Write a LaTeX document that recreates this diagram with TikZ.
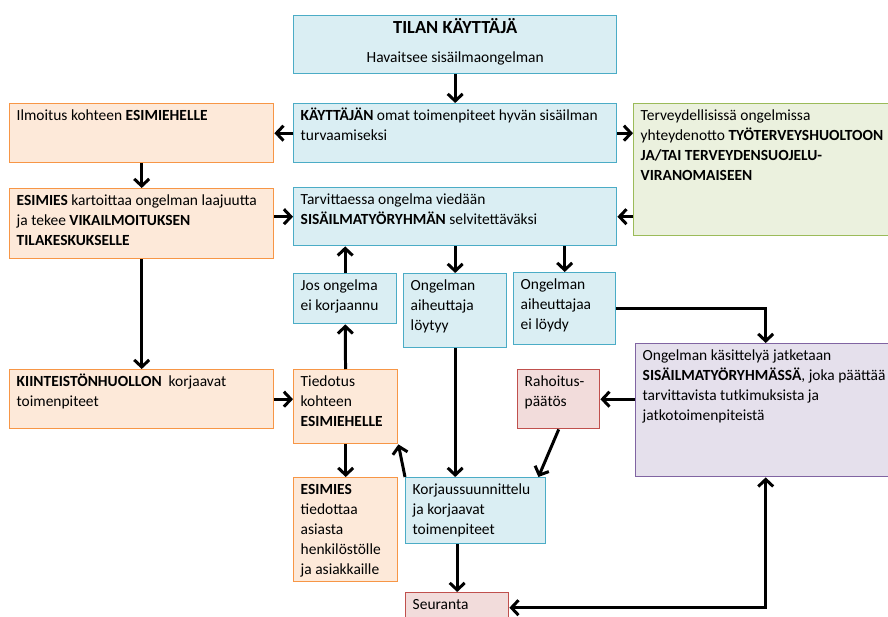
\documentclass[tikz,border=0pt]{standalone}
\usepackage{fontspec}
\setmainfont{Carlito}
\usetikzlibrary{arrows.meta}
\tikzset{>={Straight Barb[length=4pt,width=8.5pt]}}
\definecolor{bluefill}{HTML}{DAEEF3}
\definecolor{blueline}{HTML}{4BACC6}
\definecolor{orangefill}{HTML}{FDE9D9}
\definecolor{orangeline}{HTML}{F79646}
\definecolor{greenfill}{HTML}{EBF1DE}
\definecolor{greenline}{HTML}{9BBB59}
\definecolor{purplefill}{HTML}{E5E0EC}
\definecolor{purpleline}{HTML}{8064A2}
\definecolor{redfill}{HTML}{F2DCDB}
\definecolor{redline}{HTML}{C0504D}
\newlength{\pxu}
\setlength{\pxu}{0.02cm}
\newcommand{\cell}[3]{\parbox[c][\dimexpr#2\pxu-6\pxu\relax][t]{\dimexpr#1\pxu-14\pxu\relax}{\raggedright\strut #3}}
\tikzset{
  box/.style={anchor=north west, inner xsep=0.14cm, inner ysep=0.06cm, line width=0.8pt, font=\fontsize{8.8}{11.3}\selectfont},
  bluebox/.style={box, draw=blueline, fill=bluefill},
  orangebox/.style={box, draw=orangeline, fill=orangefill},
  greenbox/.style={box, draw=greenline, fill=greenfill},
  purplebox/.style={box, draw=purpleline, fill=purplefill},
  redbox/.style={box, draw=redline, fill=redfill},
  link/.style={->, line width=1.7pt}
}

\begin{document}
\begin{tikzpicture}[x=0.02cm, y=-0.02cm]
	\useasboundingbox (0,0) rectangle (888,617);
	\clip (0,0) rectangle (888,617);
	\node[bluebox] (title) at (293,15) {\parbox[c][52\pxu][t]{309\pxu}{\centering{\fontsize{10.5}{12}\selectfont\bfseries\strut TILAN KÄYTTÄJÄ}\\[5pt] Havaitsee sisäilmaongelman}};
	\node[bluebox] (kayttaja) at (293,103) {\cell{323}{59}{\textbf{KÄYTTÄJÄN} omat toimenpiteet hyvän sisäilman\\ turvaamiseksi}};
	\node[bluebox] (tarvittaessa) at (293,187) {\cell{323}{58}{Tarvittaessa ongelma viedään\\ \textbf{SISÄILMATYÖRYHMÄN} selvitettäväksi}};
	\node[orangebox] (ilmoitus) at (9,103) {\cell{264}{59}{Ilmoitus kohteen \textbf{ESIMIEHELLE}}};
	\node[orangebox] (esimies) at (9,188) {\cell{264}{70}{\textbf{ESIMIES} kartoittaa ongelman laajuutta\\ ja tekee \textbf{VIKAILMOITUKSEN}\\ \textbf{TILAKESKUKSELLE}}};
	\node[greenbox] (terveys) at (633,103) {\cell{262}{132}{Terveydellisissä ongelmissa\\ yhteydenotto~\textbf{TYÖTERVEYSHUOLTOON}\\ \textbf{JA/TAI TERVEYDENSUOJELU-}\\ \textbf{VIRANOMAISEEN}}};
	\node[bluebox] (jos) at (293,273) {\cell{103}{50}{Jos ongelma\\ ei korjaannu}};
	\node[bluebox] (loytyy) at (403,273) {\cell{103}{74}{Ongelman\\ aiheuttaja\\ löytyy}};
	\node[bluebox] (eiloydy) at (513,272) {\cell{102}{72}{Ongelman\\ aiheuttajaa\\ ei löydy}};
	\node[orangebox] (kiinteisto) at (9,369) {\cell{264}{59}{\textbf{KIINTEISTÖNHUOLLON}~~korjaavat\\ toimenpiteet}};
	\node[orangebox] (tiedotus) at (293,369) {\cell{104}{74}{Tiedotus\\ kohteen\\ \textbf{ESIMIEHELLE}}};
	\node[redbox] (rahoitus) at (517,369) {\cell{82}{59}{Rahoitus-\\ päätös}};
	\node[purplebox] (kasittely) at (635,343) {\cell{260}{133}{Ongelman käsittelyä jatketaan\\ \textbf{SISÄILMATYÖRYHMÄSSÄ},~joka~päättää\\ tarvittavista tutkimuksista ja\\ jatkotoimenpiteistä}};
	\node[orangebox] (esimies2) at (293,477) {\cell{104}{104}{\textbf{ESIMIES}\\ tiedottaa\\ asiasta\\ henkilöstölle\\ ja asiakkaille}};
	\node[bluebox] (korjaus) at (405,477) {\cell{140}{66}{Korjaussuunnittelu\\ ja korjaavat\\ toimenpiteet}};
	\node[redbox] (seuranta) at (405,592) {\cell{103}{30}{Seuranta}};
	\draw[link] (title) -- (kayttaja);
	\draw[link] (kayttaja) -- (ilmoitus);
	\draw[link] (kayttaja.east) -- (kayttaja.east -| terveys.west);
	\draw[link] (terveys.west |- tarvittaessa.east) -- (tarvittaessa.east);
	\draw[link] (ilmoitus) -- (esimies);
	\draw[link] (esimies.east |- tarvittaessa.west) -- (tarvittaessa.west);
	\draw[link] (esimies) -- (kiinteisto);
	\draw[link] (kiinteisto.east) -- (kiinteisto.east -| tiedotus.west);
	\draw[link] (tiedotus) -- (jos);
	\draw[link] (jos.north) -- (jos.north |- tarvittaessa.south);
	\draw[link] (loytyy.north |- tarvittaessa.south) -- (loytyy.north);
	\draw[link] (eiloydy.north |- tarvittaessa.south) -- (eiloydy.north);
	\draw[link] (loytyy.south) -- (loytyy.south |- korjaus.north);
	\draw[link] (eiloydy.east) -| (kasittely.north);
	\draw[link] (kasittely.west |- rahoitus.east) -- (rahoitus.east);
	\draw[link] (rahoitus.south) -- ([xshift=-0.16cm]korjaus.north east);
	\draw[link] (korjaus.north west) -- (tiedotus.south east);
	\draw[link] (tiedotus) -- (esimies2);
	\draw[link] (seuranta.north |- korjaus.south) -- (seuranta.north);
	\draw[link, <->] (seuranta.east) -| (kasittely.south);
\end{tikzpicture}
\end{document}
